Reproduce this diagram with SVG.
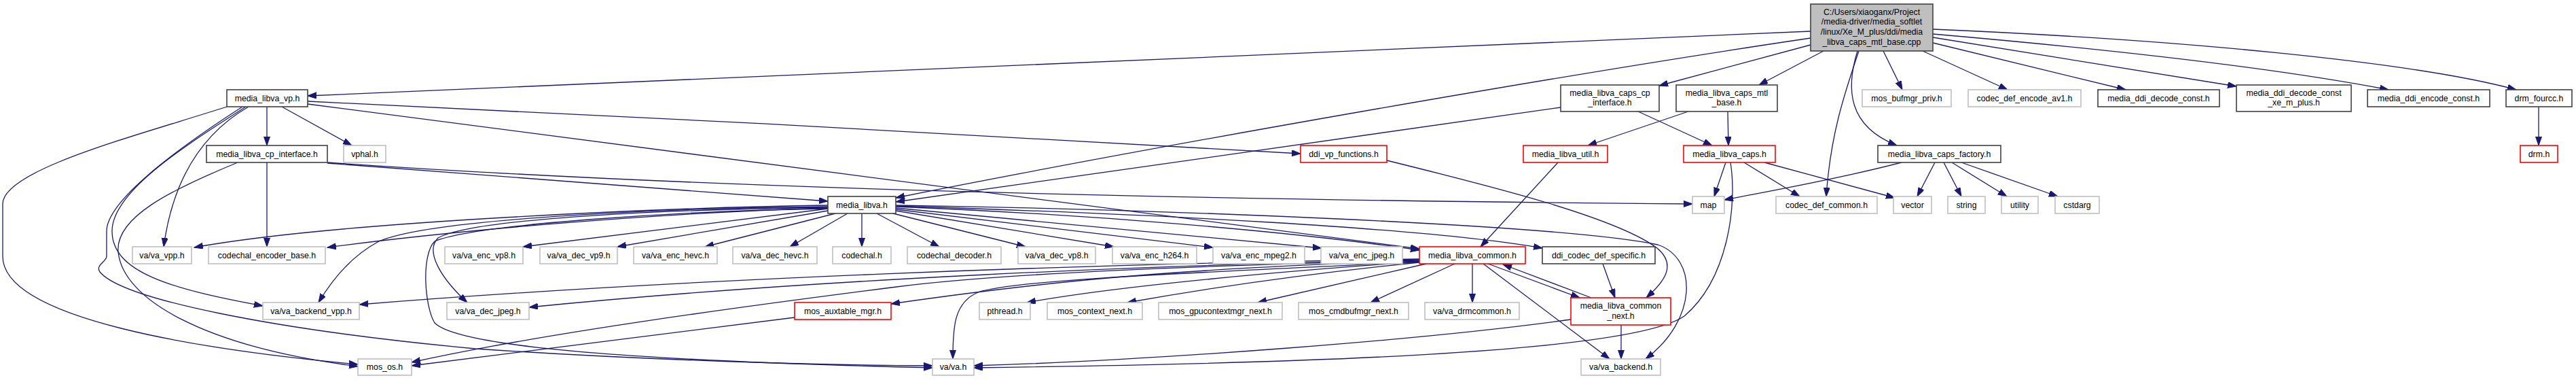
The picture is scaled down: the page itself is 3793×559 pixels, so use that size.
<svg xmlns="http://www.w3.org/2000/svg" width="3793" height="559" viewBox="0 0 3793 559">
<style>
.n rect{fill:#ffffff;stroke-width:1.6}
.b rect{stroke:#404040}
.g rect{stroke:#bfbfbf}
.r rect{stroke:#ff0000}
.t rect{fill:#bfbfbf;stroke:#404040}
.n text{font-family:"Liberation Sans",Arial,Helvetica,sans-serif;font-size:12.3px;fill:#000000;text-anchor:middle}
.e path{fill:none;stroke:#191970;stroke-width:1.3;marker-end:url(#ah)}
</style>
<defs>
<marker id="ah" markerUnits="userSpaceOnUse" markerWidth="14" markerHeight="10" viewBox="0 0 14 10" refX="13" refY="4.5" orient="auto">
<path d="M0,0 L13,4.5 L0,9 z" fill="#191970" stroke="#191970" stroke-width="1"/>
</marker>
</defs>
<rect x="0" y="0" width="3793" height="559" fill="#ffffff"/>
<g id="edges" class="e">
<path d="M2666,46 L453,141"/>
<path d="M2666,56 C2300,110 1700,215 1319,291"/>
<path d="M2666,66 L2443,126"/>
<path d="M2685,75 L2590,125"/>
<path d="M2737,75 C2715,140 2695,200 2689,289"/>
<path d="M2735,75 C2718,130 2720,185 2793,214"/>
<path d="M2773,75 L2801,132"/>
<path d="M2831,75 L2956,132"/>
<path d="M2846,63 L3130,132"/>
<path d="M2846,55 L3293,127"/>
<path d="M2846,50 C3100,72 3350,100 3517,132"/>
<path d="M2846,43 C3200,58 3550,90 3705,132"/>
<path d="M393,157 L393,214"/>
<path d="M415,157 L518,214"/>
<path d="M366,157 C300,195 255,260 241,363"/>
<path d="M334,157 C200,200 4,250 4,300 L4,377 C4,470 300,515 527,536"/>
<path d="M357,157 C290,200 157,290 157,340 L157,377 C157,385 140,390 147,400 C180,440 400,485 700,513 C950,530 1200,537 1373,538"/>
<path d="M362,157 C280,210 165,280 165,340 C165,400 250,425 387,450"/>
<path d="M453,149 C900,170 1500,200 1915,226"/>
<path d="M453,153 L2090,366"/>
<path d="M393,239 L393,363"/>
<path d="M350,239 C250,280 170,320 174,370 C180,440 300,510 527,539"/>
<path d="M482,240 L1219,296"/>
<path d="M482,239 C900,268 1500,292 2492,300"/>
<path d="M1219,302 C1000,305 500,325 286,364"/>
<path d="M1219,306 C1000,312 700,335 482,364"/>
<path d="M1219,304 C1000,306 640,320 558,355 C520,375 490,410 469,445"/>
<path d="M1219,305 C1000,308 700,320 645,350 C625,370 650,410 688,445"/>
<path d="M1219,307 C1000,310 700,330 640,355 C620,375 625,450 640,475 C680,515 1000,532 1373,541"/>
<path d="M1219,307 L770,363"/>
<path d="M1219,310 L909,363"/>
<path d="M1230,314 L1038,363"/>
<path d="M1248,314 L1163,363"/>
<path d="M1269,314 L1269,363"/>
<path d="M1291,314 L1383,363"/>
<path d="M1315,314 L1510,363"/>
<path d="M1319,310 L1640,363"/>
<path d="M1319,308 L1786,364"/>
<path d="M1319,306 L1946,365"/>
<path d="M1319,304 C1600,315 1900,340 2090,368"/>
<path d="M1319,303 C1700,315 2100,335 2271,365"/>
<path d="M1319,302 C1700,308 2300,330 2441,360 C2500,380 2500,470 2423,528"/>
<path d="M2298,158 L1319,297"/>
<path d="M2412,164 L2521,214"/>
<path d="M2486,164 L2338,214"/>
<path d="M2544,164 L2545,214"/>
<path d="M2294,239 L2180,363"/>
<path d="M2541,239 L2524,289"/>
<path d="M2568,239 L2650,289"/>
<path d="M2598,239 L2790,291"/>
<path d="M2548,239 C2558,300 2545,410 2480,465 C2400,520 1900,535 1434,541"/>
<path d="M2800,239 C2700,265 2600,282 2539,294"/>
<path d="M2849,239 L2823,289"/>
<path d="M2862,239 L2888,289"/>
<path d="M2874,239 L2955,289"/>
<path d="M2888,239 L3030,289"/>
<path d="M3738,157 L3738,214"/>
<path d="M2168,388 L2168,445"/>
<path d="M2142,388 L2018,445"/>
<path d="M2191,388 L2326,438"/>
<path d="M2343,438 L2213,389"/>
<path d="M2184,388 L2370,528"/>
<path d="M2360,388 L2378,438"/>
<path d="M2042,236 C2200,275 2380,320 2440,365 C2470,390 2450,415 2424,438"/>
<path d="M2387,478 L2387,528"/>
<path d="M2313,470 C2100,500 1700,530 1434,538"/>
<path d="M2090,385 C1800,400 1500,410 1440,430 C1405,445 1403,480 1403,528"/>
<path d="M2090,385 C1900,398 1650,420 1512,445"/>
<path d="M2090,386 C1950,400 1800,420 1660,445"/>
<path d="M2100,388 L1852,445"/>
<path d="M2090,384 C1700,395 1500,420 1312,447"/>
<path d="M2090,383 C1700,392 1450,405 1320,422 C1100,450 800,490 606,533"/>
<path d="M2090,382 C1700,390 1200,410 779,452"/>
<path d="M2090,381 C1600,388 1000,410 529,448"/>
<path d="M1170,467 L606,538"/>
</g>
<g id="n_top" class="n t"><rect x="2666" y="6" width="180" height="69"/><text x="2756" y="21.5">C:/Users/xiaoganx/Project</text><text x="2756" y="36.3">/media-driver/media_softlet</text><text x="2756" y="51">/linux/Xe_M_plus/ddi/media</text><text x="2756" y="65.8">_libva_caps_mtl_base.cpp</text></g>
<g id="n_vp" class="n b"><rect x="334" y="132" width="119" height="25"/><text x="393.5" y="148.8">media_libva_vp.h</text></g>
<g id="n_caps_cp" class="n b"><rect x="2298" y="125" width="145" height="39"/><text x="2370.5" y="141.3">media_libva_caps_cp</text><text x="2370.5" y="155.3">_interface.h</text></g>
<g id="n_caps_mtl" class="n b"><rect x="2468" y="125" width="149" height="39"/><text x="2542.5" y="141.3">media_libva_caps_mtl</text><text x="2542.5" y="155.3">_base.h</text></g>
<g id="n_bufmgr" class="n g"><rect x="2742" y="132" width="131" height="25"/><text x="2807.5" y="148.8">mos_bufmgr_priv.h</text></g>
<g id="n_av1" class="n g"><rect x="2898" y="132" width="166" height="25"/><text x="2981" y="148.8">codec_def_encode_av1.h</text></g>
<g id="n_dec_const" class="n b"><rect x="3089" y="132" width="179" height="25"/><text x="3178.5" y="148.8">media_ddi_decode_const.h</text></g>
<g id="n_dec_xe" class="n b"><rect x="3293" y="125" width="169" height="39"/><text x="3377.5" y="141.3">media_ddi_decode_const</text><text x="3377.5" y="155.3">_xe_m_plus.h</text></g>
<g id="n_enc_const" class="n b"><rect x="3486" y="132" width="180" height="25"/><text x="3576" y="148.8">media_ddi_encode_const.h</text></g>
<g id="n_drm_fourcc" class="n b"><rect x="3690" y="132" width="97" height="25"/><text x="3738.5" y="148.8">drm_fourcc.h</text></g>
<g id="n_cp_if" class="n b"><rect x="304" y="214" width="178" height="25"/><text x="393" y="230.8">media_libva_cp_interface.h</text></g>
<g id="n_vphal" class="n g"><rect x="506" y="214" width="62" height="25"/><text x="537" y="230.8">vphal.h</text></g>
<g id="n_ddi_vp" class="n r"><rect x="1915" y="214" width="127" height="25"/><text x="1978.5" y="230.8">ddi_vp_functions.h</text></g>
<g id="n_util" class="n r"><rect x="2243" y="214" width="124" height="25"/><text x="2305" y="230.8">media_libva_util.h</text></g>
<g id="n_caps" class="n r"><rect x="2479" y="214" width="135" height="25"/><text x="2546.5" y="230.8">media_libva_caps.h</text></g>
<g id="n_factory" class="n b"><rect x="2765" y="214" width="181" height="25"/><text x="2855.5" y="230.8">media_libva_caps_factory.h</text></g>
<g id="n_drm" class="n r"><rect x="3711" y="214" width="55" height="25"/><text x="3738.5" y="230.8">drm.h</text></g>
<g id="n_libva" class="n b"><rect x="1219" y="289" width="100" height="25"/><text x="1269" y="305.8">media_libva.h</text></g>
<g id="n_map" class="n g"><rect x="2492" y="289" width="47" height="25"/><text x="2515.5" y="305.8">map</text></g>
<g id="n_cdc" class="n g"><rect x="2615" y="289" width="149" height="25"/><text x="2689.5" y="305.8">codec_def_common.h</text></g>
<g id="n_vector" class="n g"><rect x="2788" y="289" width="56" height="25"/><text x="2816" y="305.8">vector</text></g>
<g id="n_string" class="n g"><rect x="2868" y="289" width="55" height="25"/><text x="2895.5" y="305.8">string</text></g>
<g id="n_utility" class="n g"><rect x="2947" y="289" width="54" height="25"/><text x="2974" y="305.8">utility</text></g>
<g id="n_cstdarg" class="n g"><rect x="3026" y="289" width="65" height="25"/><text x="3058.5" y="305.8">cstdarg</text></g>
<g id="n_va_vpp" class="n g"><rect x="195" y="363" width="87" height="25"/><text x="238.5" y="379.8">va/va_vpp.h</text></g>
<g id="n_enc_base" class="n g"><rect x="307" y="363" width="172" height="25"/><text x="393" y="379.8">codechal_encoder_base.h</text></g>
<g id="n_enc_vp8" class="n g"><rect x="655" y="363" width="115" height="25"/><text x="712.5" y="379.8">va/va_enc_vp8.h</text></g>
<g id="n_dec_vp9" class="n g"><rect x="795" y="363" width="114" height="25"/><text x="852" y="379.8">va/va_dec_vp9.h</text></g>
<g id="n_enc_hevc" class="n g"><rect x="933" y="363" width="123" height="25"/><text x="994.5" y="379.8">va/va_enc_hevc.h</text></g>
<g id="n_dec_hevc" class="n g"><rect x="1079" y="363" width="124" height="25"/><text x="1141" y="379.8">va/va_dec_hevc.h</text></g>
<g id="n_codechal" class="n g"><rect x="1226" y="363" width="86" height="25"/><text x="1269" y="379.8">codechal.h</text></g>
<g id="n_codechal_dec" class="n g"><rect x="1336" y="363" width="138" height="25"/><text x="1405" y="379.8">codechal_decoder.h</text></g>
<g id="n_dec_vp8" class="n g"><rect x="1499" y="363" width="114" height="25"/><text x="1556" y="379.8">va/va_dec_vp8.h</text></g>
<g id="n_enc_h264" class="n g"><rect x="1638" y="363" width="124" height="25"/><text x="1700" y="379.8">va/va_enc_h264.h</text></g>
<g id="n_enc_mpeg2" class="n g"><rect x="1786" y="363" width="135" height="25"/><text x="1853.5" y="379.8">va/va_enc_mpeg2.h</text></g>
<g id="n_enc_jpeg" class="n g"><rect x="1945" y="363" width="120" height="25"/><text x="2005" y="379.8">va/va_enc_jpeg.h</text></g>
<g id="n_common" class="n r"><rect x="2090" y="363" width="156" height="25"/><text x="2168" y="379.8">media_libva_common.h</text></g>
<g id="n_ddi_codec" class="n b"><rect x="2271" y="363" width="166" height="25"/><text x="2354" y="379.8">ddi_codec_def_specific.h</text></g>
<g id="n_backend_vpp" class="n g"><rect x="387" y="445" width="142" height="25"/><text x="458" y="461.8">va/va_backend_vpp.h</text></g>
<g id="n_dec_jpeg" class="n g"><rect x="658" y="445" width="121" height="25"/><text x="718.5" y="461.8">va/va_dec_jpeg.h</text></g>
<g id="n_auxtable" class="n r"><rect x="1170" y="445" width="142" height="25"/><text x="1241" y="461.8">mos_auxtable_mgr.h</text></g>
<g id="n_pthread" class="n g"><rect x="1442" y="445" width="75" height="25"/><text x="1479.5" y="461.8">pthread.h</text></g>
<g id="n_ctx_next" class="n g"><rect x="1542" y="445" width="140" height="25"/><text x="1612" y="461.8">mos_context_next.h</text></g>
<g id="n_gpuctx" class="n g"><rect x="1706" y="445" width="182" height="25"/><text x="1797" y="461.8">mos_gpucontextmgr_next.h</text></g>
<g id="n_cmdbuf" class="n g"><rect x="1912" y="445" width="162" height="25"/><text x="1993" y="461.8">mos_cmdbufmgr_next.h</text></g>
<g id="n_drmcommon" class="n g"><rect x="2098" y="445" width="139" height="25"/><text x="2167.5" y="461.8">va/va_drmcommon.h</text></g>
<g id="n_common_next" class="n r"><rect x="2313" y="438" width="147" height="40"/><text x="2386.5" y="453.6">media_libva_common</text><text x="2386.5" y="468.6">_next.h</text></g>
<g id="n_mos_os" class="n g"><rect x="527" y="528" width="79" height="24"/><text x="566.5" y="544.3">mos_os.h</text></g>
<g id="n_va" class="n g"><rect x="1373" y="528" width="61" height="24"/><text x="1403.5" y="544.3">va/va.h</text></g>
<g id="n_backend" class="n g"><rect x="2328" y="528" width="117" height="24"/><text x="2386.5" y="544.3">va/va_backend.h</text></g>
</svg>
